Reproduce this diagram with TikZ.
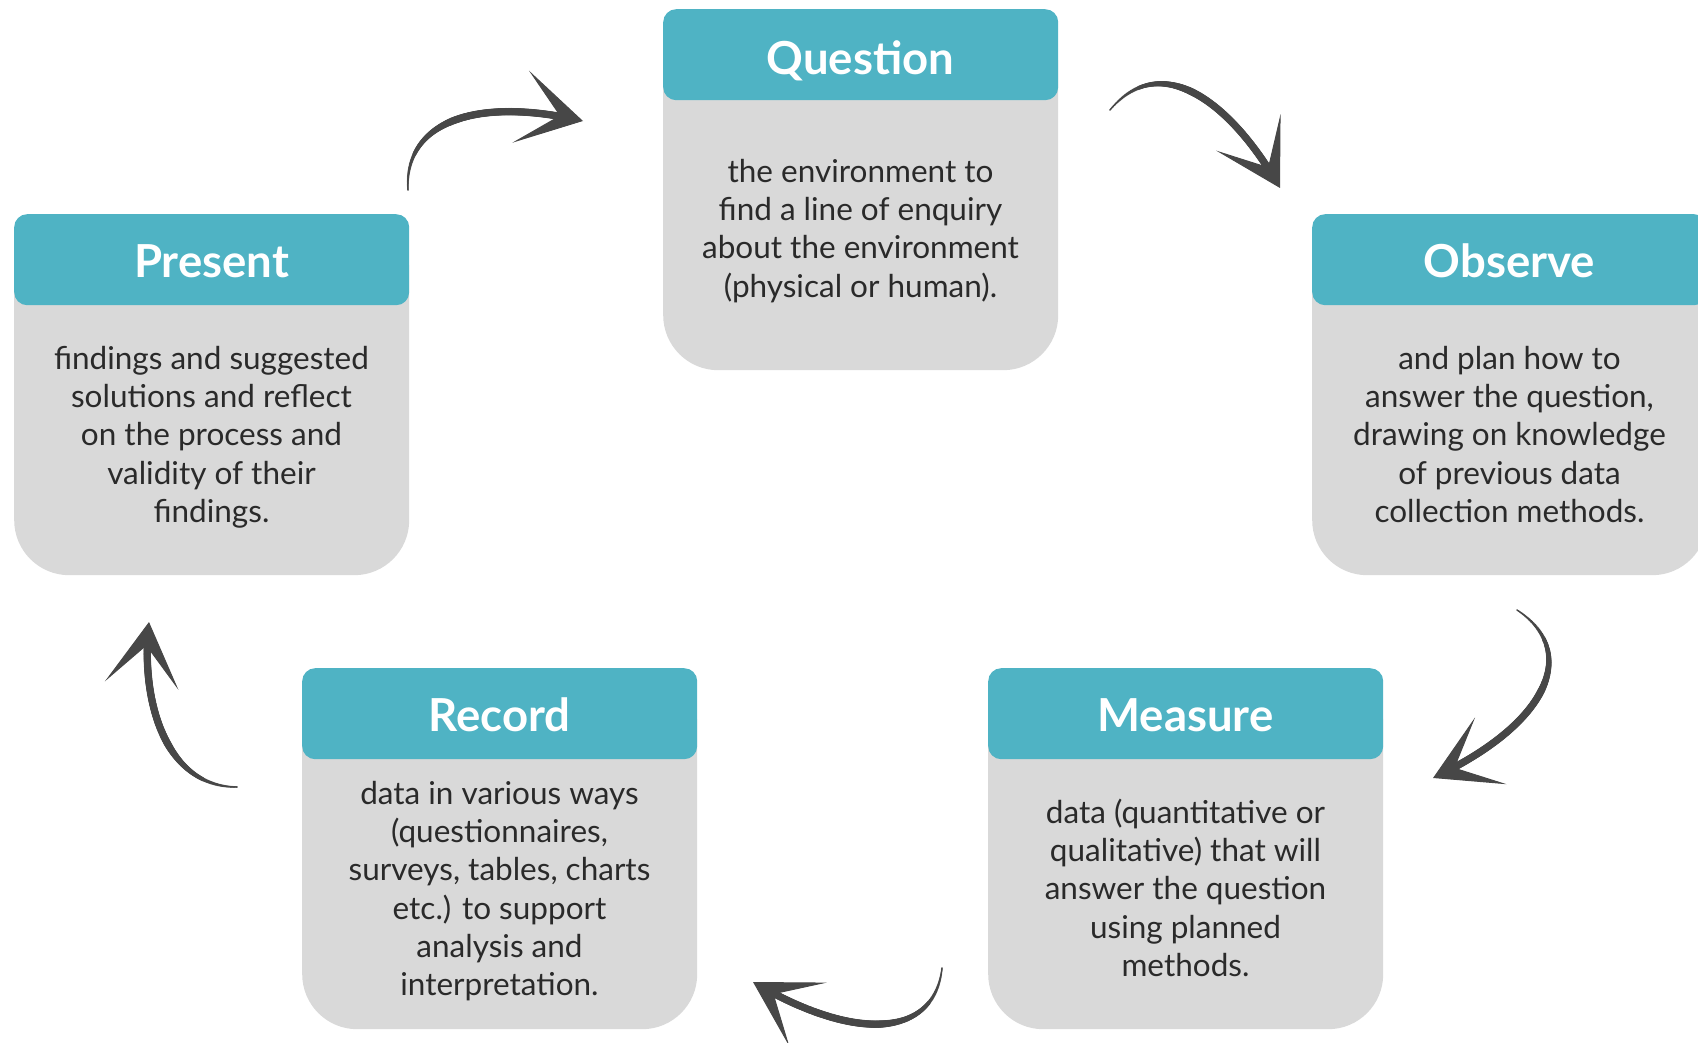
\documentclass[tikz,border=0pt]{standalone}
\usepackage{fontspec}
\setmainfont{Lato}
\usetikzlibrary{arrows.meta,decorations.markings}
\definecolor{tealhead}{HTML}{4FB3C4}
\definecolor{boxgrey}{HTML}{D9D9D9}
\definecolor{txtgrey}{HTML}{2A2A2A}
\definecolor{arrgrey}{HTML}{474747}
\tikzset{
  bodybox/.style={fill=boxgrey, rounded corners=55pt, minimum width=395pt, minimum height=361pt, inner sep=0pt, anchor=north west},
  headbox/.style={fill=tealhead, rounded corners=13pt, minimum width=395pt, minimum height=91pt, inner sep=0pt, anchor=north west},
  titletext/.style={text=white, font=\fontsize{45.5}{50}\selectfont\bfseries, anchor=base, inner sep=0pt},
  bodytext/.style={text=txtgrey, font=\fontsize{31.5}{38.3}\selectfont, align=center, anchor=north, inner sep=0pt},
  taper/.style={postaction={decorate, decoration={markings,
    mark=between positions 0 and 0.93 step 0.8pt with {%
      \pgfmathsetmacro\tapr{0.8+2.9*min(1,2.5*\pgfkeysvalueof{/pgf/decoration/mark info/distance from start}/\pgfdecoratedpathlength)}%
      \fill[arrgrey] (0,0) circle (\tapr pt);}}}},
  handarrow/.style={draw=arrgrey, line width=1pt, taper, -{Stealth[length=64pt,width=74pt,inset=40pt]}},
}
\begin{document}
\begin{tikzpicture}[x=1pt, y=-1pt]
\useasboundingbox (0,0) rectangle (1698,1043);

% Question
\node[bodybox] (qbody) at (663,9) {};
\node[headbox] (qhead) at (663,9) {};
\node[titletext] (qtitle) at (860.5,75) {Question};
\node[bodytext] (qtext) at (860.5,155.2) {\strut the environment to\\ find a line of enquiry\\ about the environment\\ (physical or human).};

% Present
\node[bodybox] (pbody) at (14,214) {};
\node[headbox] (phead) at (14,214) {};
\node[titletext] (ptitle) at (211.5,277) {Present};
\node[bodytext] (ptext) at (211.5,342.2) {\strut findings and suggested\\ solutions and reflect\\ on the process and\\ validity of their\\ findings.};

% Observe
\node[bodybox] (obody) at (1312,214) {};
\node[headbox] (ohead) at (1312,214) {};
\node[titletext] (otitle) at (1509.5,277) {Observe};
\node[bodytext] (otext) at (1509.5,342.2) {\strut and plan how to\\ answer the question,\\ drawing on knowledge\\ of previous data\\ collection methods.};

% Record
\node[bodybox] (rbody) at (302,668) {};
\node[headbox] (rhead) at (302,668) {};
\node[titletext] (rtitle) at (499.5,731) {Record};
\node[bodytext] (rtext) at (499.5,777.2) {\strut data in various ways\\ (questionnaires,\\ surveys, tables, charts\\ etc.) to support\\ analysis and\\ interpretation.};

% Measure
\node[bodybox] (mbody) at (988,668) {};
\node[headbox] (mhead) at (988,668) {};
\node[titletext] (mtitle) at (1185.5,731) {Measure};
\node[bodytext] (mtext) at (1185.5,796.2) {\strut data (quantitative or\\ qualitative) that will\\ answer the question\\ using planned\\ methods.};

% arrow end points
\coordinate (a1s) at (408,190);  \coordinate (a1e) at (583,121);
\coordinate (a2s) at (1110,110); \coordinate (a2e) at (1280,188);
\coordinate (a3s) at (1517,610); \coordinate (a3e) at (1433,778);
\coordinate (a4s) at (942,968);  \coordinate (a4e) at (753,982);
\coordinate (a5s) at (237,787);  \coordinate (a5e) at (149,622);

\draw[handarrow] (a1s) .. controls (404,125) and (470,95) .. (a1e);
\draw[handarrow] (a2s) .. controls (1160,50) and (1230,100) .. (a2e);
\draw[handarrow] (a3s) .. controls (1578,650) and (1552,722) .. (a3e);
\draw[handarrow] (a4s) .. controls (935,1035) and (860,1045) .. (a4e);
\draw[handarrow] (a5s) .. controls (165,787) and (140,700) .. (a5e);
\end{tikzpicture}
\end{document}
